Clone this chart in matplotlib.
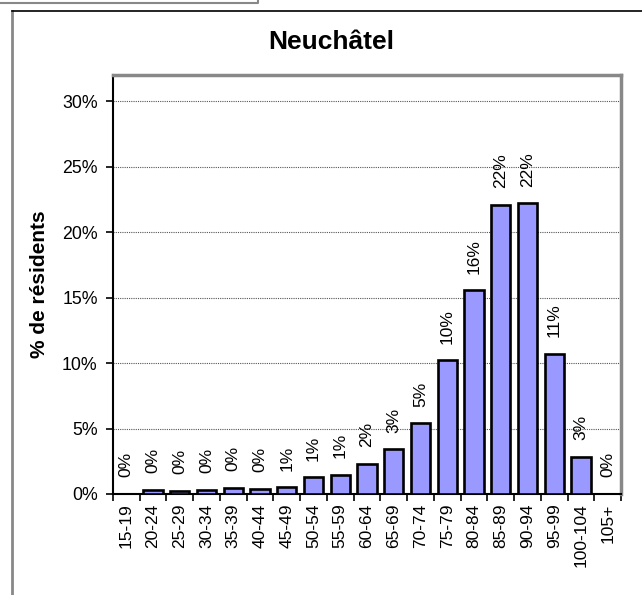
import matplotlib
matplotlib.use("Agg")
import matplotlib.pyplot as plt
from matplotlib.lines import Line2D
from matplotlib.ticker import FuncFormatter

plt.rcParams['font.family'] = ['Liberation Sans', 'DejaVu Sans']

categories = ["15-19", "20-24", "25-29", "30-34", "35-39", "40-44", "45-49",
              "50-54", "55-59", "60-64", "65-69", "70-74", "75-79", "80-84",
              "85-89", "90-94", "95-99", "100-104", "105+"]
values = [0.0, 0.3, 0.25, 0.3, 0.45, 0.4, 0.52, 1.27, 1.45, 2.29, 3.4,
          5.39, 10.2, 15.55, 22.1, 22.2, 10.7, 2.85, 0.0]
yticks = [0, 5, 10, 15, 20, 25, 30]
title = "Neuchâtel"
ylabel = "% de résidents"

W, H = 642, 595
fig = plt.figure(figsize=(W / 100, H / 100), dpi=100)
ax = fig.add_axes([113 / W, 1 - 494 / H, (621 - 113) / W, (494 - 75) / H])

x = list(range(len(categories)))
ax.bar(x, values, width=0.72, color="#9999FF", edgecolor="black", linewidth=1.9, zorder=3)
ax.set_xlim(-0.5, len(categories) - 0.5)
ax.set_ylim(0, 32)

for xi, v in zip(x, values):
    ax.annotate(f"{v:.0f}%", (xi, v), xytext=(0, 12), textcoords="offset points",
                rotation=90, ha="center", va="bottom", fontsize=12.5)

ax.set_yticks(yticks)
ax.yaxis.set_major_formatter(FuncFormatter(lambda v, p: f"{v:.0f}%"))
ax.yaxis.grid(True, linestyle=(0, (1, 1)), color="#555555", linewidth=0.8, zorder=0)
ax.tick_params(axis="y", direction="out", length=5, width=1.2, labelsize=12.8, pad=6)

ax.set_xticks(x)
ax.set_xticklabels(categories, rotation=90, fontsize=12.5)
ax.tick_params(axis="x", length=0, pad=7)
ax.set_xticks([i - 0.5 for i in range(len(categories) + 1)], minor=True)
ax.tick_params(axis="x", which="minor", direction="out", length=5, width=1.2)

for s in ["left", "bottom"]:
    ax.spines[s].set_color("black")
    ax.spines[s].set_linewidth(1.5)
for s in ["top", "right"]:
    ax.spines[s].set_color("#888888")
    ax.spines[s].set_linewidth(2.5)

fig.text(40 / W, 1 - 284 / H, ylabel, rotation=90, ha="center", va="center",
         fontsize=15, fontweight="bold")
fig.text(331 / W, 1 - 42 / H, title, ha="center", va="center", fontsize=19, fontweight="bold")

def px_line(xs, ys, color, lw):
    fig.add_artist(Line2D([v / W for v in xs], [1 - v / H for v in ys],
                          transform=fig.transFigure, color=color, linewidth=lw))

px_line([0, 258, 258], [3, 3, 0], "#888888", 1.5)
px_line([12, 12], [11, H], "#888888", 2.0)
px_line([12, W], [11, 11], "black", 1.2)

fig.savefig("out.png", dpi=100)
